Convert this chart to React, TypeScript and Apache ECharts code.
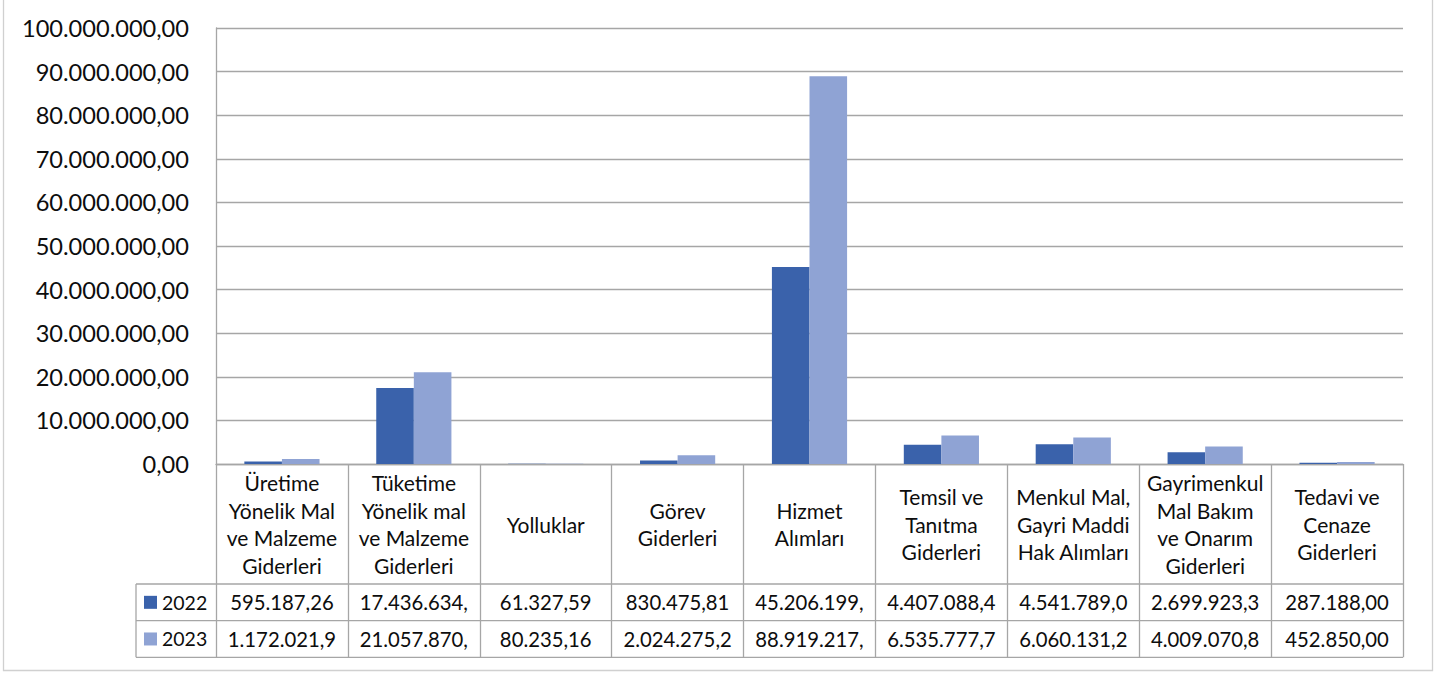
import React, { useEffect, useRef } from "react";
import * as echarts from "echarts";

const categories = [
  "Üretime\nYönelik Mal\nve Malzeme\nGiderleri",
  "Tüketime\nYönelik mal\nve Malzeme\nGiderleri",
  "Yolluklar",
  "Görev\nGiderleri",
  "Hizmet\nAlımları",
  "Temsil ve\nTanıtma\nGiderleri",
  "Menkul Mal,\nGayri Maddi\nHak Alımları",
  "Gayrimenkul\nMal Bakım\nve Onarım\nGiderleri",
  "Tedavi ve\nCenaze\nGiderleri",
];
const seriesNames = ["2022", "2023"];
const values2022 = [595187.26, 17436634.5, 61327.59, 830475.81, 45206199.5, 4407088.4, 4541789.0, 2699923.3, 287188.0];
const values2023 = [1172021.9, 21057870.5, 80235.16, 2024275.2, 88919217.5, 6535777.7, 6060131.2, 4009070.8, 452850.0];
const yMin = 0;
const yMax = 100000000;
const yInterval = 10000000;
const MAX_CELL_CHARS = 11;

const COLORS = ["#3a62ab", "#8fa3d4"];
const GRAY = "#a6a6a6";
const FONT = "Lato";
const TXT = "#0d0d0d";

const PLOT_LEFT = 216;
const PLOT_RIGHT = 1403;
const PLOT_TOP = 28;
const AXIS_Y = 464;
const CAT_ROW_BOTTOM = 584;
const ROW_H = 36.65;
const TABLE_LEFT = 136;
const W = 1444;
const H = 673;

const AXIS_FONT = 23.6;
const CAT_FONT = 21;
const CELL_FONT = 20.3;

function fmtTR(v: number): string {
  const [i, d] = v.toFixed(2).split(".");
  return i.replace(/\B(?=(\d{3})+(?!\d))/g, ".") + "," + d;
}

export default function App() {
  const ref = useRef<HTMLDivElement>(null);
  useEffect(() => {
    if (!ref.current) return;
    const chart = echarts.init(ref.current, null, { renderer: "svg" });
    const tableBottom = CAT_ROW_BOTTOM + 2 * ROW_H;
    chart.setOption({
      animation: false,
      backgroundColor: "#ffffff",
      grid: {
        left: PLOT_LEFT,
        right: W - PLOT_RIGHT,
        top: PLOT_TOP,
        bottom: H - AXIS_Y,
        containLabel: false,
      },
      legend: {
        orient: "vertical",
        left: 144,
        top: CAT_ROW_BOTTOM + ROW_H / 2 - 11,
        itemWidth: 13,
        itemHeight: 13,
        itemGap: ROW_H - 22,
        padding: 0,
        icon: "rect",
        textStyle: { fontSize: 19.5, fontFamily: FONT, color: TXT, lineHeight: 22 },
        data: seriesNames,
      },
      xAxis: {
        type: "category",
        data: categories,
        axisLine: { show: true, lineStyle: { color: GRAY, width: 1.3 } },
        axisTick: {
          show: true,
          interval: 0,
          length: tableBottom - AXIS_Y,
          lineStyle: { color: GRAY, width: 1.3 },
        },
        axisLabel: {
          interval: 0,
          margin: (CAT_ROW_BOTTOM - AXIS_Y) / 2,
          verticalAlign: "middle",
          align: "center",
          lineHeight: 27.7,
          fontSize: CAT_FONT,
          fontFamily: FONT,
          color: TXT,
        },
      },
      yAxis: {
        type: "value",
        min: yMin,
        max: yMax,
        interval: yInterval,
        axisLine: { show: true, lineStyle: { color: GRAY, width: 1.3 } },
        axisTick: { show: false },
        splitLine: { show: true, lineStyle: { color: GRAY, width: 1.3 } },
        axisLabel: {
          margin: 27,
          fontSize: AXIS_FONT,
          fontFamily: FONT,
          color: TXT,
          formatter: (v: number) => fmtTR(v),
        },
      },
      series: [
        {
          name: seriesNames[0],
          type: "bar",
          data: values2022,
          itemStyle: { color: COLORS[0] },
          barGap: "0%",
          barCategoryGap: "43%",
        },
        {
          name: seriesNames[1],
          type: "bar",
          data: values2023,
          itemStyle: { color: COLORS[1] },
          barGap: "0%",
          barCategoryGap: "43%",
        },
      ],
    });

    const lineStyle = { stroke: GRAY, lineWidth: 1.3 };
    const graphics: any[] = [
      {
        type: "rect",
        shape: { x: 3.5, y: -3, width: 1429, height: 673.5 },
        style: { fill: "none", stroke: "#d0d0d0", lineWidth: 1.3 },
        silent: true,
      },
      {
        type: "line",
        shape: { x1: TABLE_LEFT, y1: CAT_ROW_BOTTOM, x2: TABLE_LEFT, y2: tableBottom },
        style: lineStyle,
      },
    ];
    for (let r = 0; r < 3; r++) {
      const y = CAT_ROW_BOTTOM + r * ROW_H;
      graphics.push({
        type: "line",
        shape: { x1: TABLE_LEFT, y1: y, x2: PLOT_RIGHT, y2: y },
        style: lineStyle,
      });
    }
    const rows = [values2022, values2023];
    rows.forEach((vals, r) => {
      vals.forEach((v, i) => {
        const x = chart.convertToPixel({ xAxisIndex: 0 }, i) as number;
        graphics.push({
          type: "text",
          x,
          y: CAT_ROW_BOTTOM + (r + 0.5) * ROW_H,
          style: {
            text: fmtTR(v).slice(0, MAX_CELL_CHARS),
            fontSize: CELL_FONT,
            fontFamily: FONT,
            fill: TXT,
            align: "center",
            verticalAlign: "middle",
          },
        });
      });
    });
    chart.setOption({ graphic: graphics });
    return () => chart.dispose();
  }, []);
  return (
    <div
      ref={ref}
      style={{ position: "absolute", left: 0, top: 0, width: W, height: H }}
    />
  );
}
